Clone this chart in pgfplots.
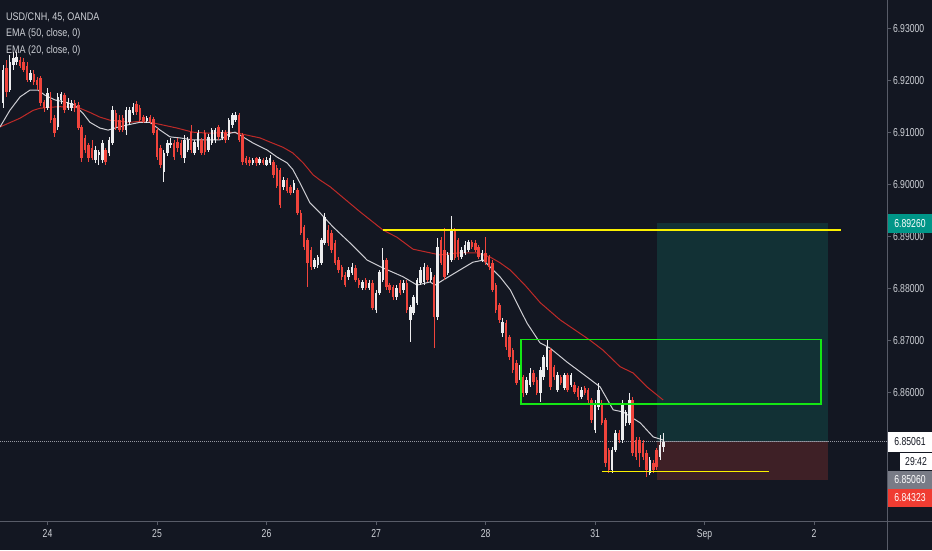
\documentclass[border=0pt]{standalone}
\usepackage{pgfplots}
\pgfplotsset{compat=1.18}
\usepackage{pgfplotstable}
\usepackage{fontspec}
\setmainfont{Liberation Sans}
\definecolor{bg}{RGB}{19,23,34}
\definecolor{sepc}{RGB}{88,92,104}
\definecolor{labc}{RGB}{205,208,214}
\definecolor{cred}{RGB}{240,68,60}
\definecolor{cwhite}{RGB}{236,236,238}
\definecolor{ema50}{RGB}{190,42,40}
\definecolor{ema20}{RGB}{205,205,210}
\definecolor{profit}{RGB}{18,49,53}
\definecolor{loss}{RGB}{62,32,38}
\definecolor{gbox}{RGB}{20,230,20}
\definecolor{ylw}{RGB}{250,240,0}
\definecolor{tealb}{RGB}{0,150,136}
\definecolor{redb}{RGB}{240,60,50}
\definecolor{greyb}{RGB}{120,123,134}
\newcommand\sq[1]{\scalebox{0.75}[1]{#1}}
\newcommand\sqq[1]{\scalebox{0.82}[1]{#1}}
\newcommand\axfont{\fontsize{11.5}{13}\selectfont}

% candle index j (45-minute bars), open, high, low, close
\pgfplotstableread{
j o h l c
0 6.9157 6.9230 6.9147 6.9221
1 6.9224 6.9240 6.9169 6.9178
2 6.9182 6.9249 6.9178 6.9236
3 6.9230 6.9255 6.9221 6.9244
4 6.9236 6.9255 6.9230 6.9246
5 6.9240 6.9246 6.9224 6.9228
6 6.9236 6.9244 6.9217 6.9221
7 6.9228 6.9236 6.9198 6.9201
8 6.9201 6.9221 6.9198 6.9215
9 6.9213 6.9221 6.9192 6.9198
10 6.9201 6.9207 6.9182 6.9192
11 6.9205 6.9209 6.9151 6.9157
12 6.9159 6.9163 6.9139 6.9147
13 6.9147 6.9186 6.9143 6.9176
14 6.9163 6.9178 6.9118 6.9124
15 6.9128 6.9134 6.9092 6.9099
16 6.9111 6.9176 6.9105 6.9169
17 6.9163 6.9178 6.9155 6.9174
18 6.9172 6.9176 6.9137 6.9143
19 6.9147 6.9167 6.9143 6.9159
20 6.9147 6.9163 6.9141 6.9157
21 6.9157 6.9163 6.9139 6.9147
22 6.9153 6.9159 6.9105 6.9109
23 6.9111 6.9114 6.9044 6.9051
24 6.9090 6.9095 6.9061 6.9067
25 6.9076 6.9080 6.9044 6.9051
26 6.9071 6.9086 6.9048 6.9051
27 6.9048 6.9074 6.9042 6.9067
28 6.9057 6.9067 6.9038 6.9063
29 6.9048 6.9086 6.9042 6.9080
30 6.9067 6.9071 6.9038 6.9044
31 6.9061 6.9092 6.9055 6.9086
32 6.9080 6.9151 6.9076 6.9143
33 6.9137 6.9143 6.9105 6.9111
34 6.9124 6.9134 6.9101 6.9105
35 6.9128 6.9134 6.9101 6.9105
36 6.9105 6.9149 6.9095 6.9143
37 6.9120 6.9149 6.9114 6.9143
38 6.9137 6.9157 6.9134 6.9149
39 6.9155 6.9161 6.9134 6.9139
40 6.9147 6.9153 6.9120 6.9124
41 6.9130 6.9134 6.9118 6.9122
42 6.9122 6.9132 6.9118 6.9128
43 6.9130 6.9134 6.9116 6.9120
44 6.9126 6.9130 6.9095 6.9099
45 6.9105 6.9109 6.9048 6.9053
46 6.9071 6.9076 6.9032 6.9038
47 6.9024 6.9067 6.9005 6.9061
48 6.9061 6.9086 6.9055 6.9080
49 6.9076 6.9090 6.9071 6.9080
50 6.9080 6.9086 6.9048 6.9053
51 6.9082 6.9090 6.9063 6.9071
52 6.9080 6.9086 6.9051 6.9057
53 6.9051 6.9095 6.9042 6.9086
54 6.9067 6.9092 6.9063 6.9086
55 6.9101 6.9114 6.9061 6.9067
56 6.9061 6.9086 6.9057 6.9082
57 6.9072 6.9105 6.9067 6.9099
58 6.9086 6.9090 6.9057 6.9061
59 6.9099 6.9105 6.9057 6.9063
60 6.9067 6.9097 6.9063 6.9092
61 6.9080 6.9109 6.9076 6.9105
62 6.9086 6.9109 6.9080 6.9105
63 6.9111 6.9114 6.9086 6.9092
64 6.9090 6.9105 6.9086 6.9101
65 6.9099 6.9105 6.9080 6.9086
66 6.9092 6.9128 6.9086 6.9124
67 6.9114 6.9137 6.9109 6.9134
68 6.9124 6.9139 6.9120 6.9135
69 6.9135 6.9137 6.9082 6.9086
70 6.9095 6.9099 6.9038 6.9044
71 6.9051 6.9055 6.9038 6.9042
72 6.9048 6.9053 6.9036 6.9042
73 6.9042 6.9051 6.9038 6.9048
74 6.9051 6.9053 6.9036 6.9042
75 6.9042 6.9053 6.9038 6.9050
76 6.9048 6.9051 6.9038 6.9042
77 6.9038 6.9053 6.9036 6.9048
78 6.9042 6.9057 6.9038 6.9051
79 6.9044 6.9048 6.9013 6.9019
80 6.9032 6.9038 6.8994 6.8998
81 6.9029 6.9032 6.8955 6.8961
82 6.8996 6.9015 6.8990 6.9009
83 6.9009 6.9013 6.8984 6.8988
84 6.8996 6.8999 6.8980 6.8984
85 6.8990 6.9009 6.8984 6.9003
86 6.8990 6.8994 6.8942 6.8946
87 6.8946 6.8951 6.8903 6.8907
88 6.8919 6.8922 6.8874 6.8880
89 6.8894 6.8898 6.8803 6.8850
90 6.8874 6.8880 6.8836 6.8842
91 6.8842 6.8859 6.8838 6.8855
92 6.8846 6.8865 6.8840 6.8861
93 6.8850 6.8898 6.8846 6.8894
94 6.8888 6.8946 6.8884 6.8938
95 6.8913 6.8922 6.8882 6.8888
96 6.8907 6.8913 6.8869 6.8874
97 6.8888 6.8894 6.8846 6.8850
98 6.8855 6.8861 6.8830 6.8836
99 6.8842 6.8846 6.8817 6.8823
100 6.8826 6.8832 6.8803 6.8807
101 6.8823 6.8842 6.8817 6.8836
102 6.8830 6.8850 6.8826 6.8842
103 6.8840 6.8846 6.8813 6.8817
104 6.8817 6.8821 6.8801 6.8807
105 6.8801 6.8817 6.8798 6.8813
106 6.8817 6.8821 6.8798 6.8801
107 6.8801 6.8817 6.8798 6.8811
108 6.8811 6.8817 6.8759 6.8763
109 6.8759 6.8798 6.8753 6.8792
110 6.8792 6.8836 6.8788 6.8832
111 6.8817 6.8878 6.8813 6.8855
112 6.8855 6.8859 6.8798 6.8803
113 6.8807 6.8811 6.8792 6.8798
114 6.8803 6.8807 6.8778 6.8784
115 6.8784 6.8807 6.8778 6.8801
116 6.8811 6.8817 6.8788 6.8792
117 6.8798 6.8817 6.8792 6.8811
118 6.8811 6.8817 6.8753 6.8759
119 6.8740 6.8769 6.8698 6.8765
120 6.8753 6.8788 6.8750 6.8784
121 6.8773 6.8821 6.8769 6.8817
122 6.8811 6.8842 6.8807 6.8836
123 6.8813 6.8850 6.8807 6.8842
124 6.8842 6.8846 6.8813 6.8817
125 6.8817 6.8840 6.8813 6.8832
126 6.8823 6.8826 6.8686 6.8746
127 6.8746 6.8898 6.8740 6.8880
128 6.8894 6.8900 6.8846 6.8850
129 6.8874 6.8917 6.8817 6.8823
130 6.8830 6.8871 6.8826 6.8865
131 6.8855 6.8940 6.8851 6.8913
132 6.8913 6.8917 6.8855 6.8859
133 6.8894 6.8898 6.8855 6.8861
134 6.8861 6.8880 6.8857 6.8874
135 6.8869 6.8892 6.8865 6.8884
136 6.8874 6.8894 6.8871 6.8890
137 6.8890 6.8894 6.8876 6.8880
138 6.8888 6.8894 6.8871 6.8874
139 6.8880 6.8884 6.8857 6.8861
140 6.8855 6.8874 6.8851 6.8869
141 6.8869 6.8900 6.8846 6.8851
142 6.8861 6.8865 6.8836 6.8842
143 6.8850 6.8855 6.8794 6.8798
144 6.8807 6.8811 6.8753 6.8759
145 6.8769 6.8773 6.8734 6.8740
146 6.8715 6.8744 6.8707 6.8736
147 6.8734 6.8740 6.8682 6.8688
148 6.8707 6.8711 6.8663 6.8669
149 6.8682 6.8686 6.8638 6.8644
150 6.8657 6.8663 6.8615 6.8619
151 6.8630 6.8653 6.8625 6.8650
152 6.8630 6.8634 6.8592 6.8600
153 6.8600 6.8630 6.8596 6.8625
154 6.8615 6.8648 6.8611 6.8638
155 6.8638 6.8644 6.8615 6.8621
156 6.8625 6.8630 6.8596 6.8600
157 6.8600 6.8650 6.8582 6.8644
158 6.8630 6.8672 6.8625 6.8669
159 6.8650 6.8701 6.8644 6.8688
160 6.8682 6.8686 6.8605 6.8611
161 6.8650 6.8653 6.8625 6.8630
162 6.8605 6.8640 6.8601 6.8634
163 6.8630 6.8634 6.8615 6.8619
164 6.8609 6.8638 6.8605 6.8634
165 6.8634 6.8638 6.8601 6.8605
166 6.8615 6.8638 6.8611 6.8634
167 6.8615 6.8621 6.8598 6.8601
168 6.8609 6.8613 6.8586 6.8592
169 6.8592 6.8611 6.8588 6.8605
170 6.8609 6.8613 6.8596 6.8600
171 6.8605 6.8609 6.8580 6.8586
172 6.8586 6.8590 6.8542 6.8548
173 6.8528 6.8586 6.8523 6.8580
174 6.8573 6.8619 6.8567 6.8605
175 6.8580 6.8586 6.8538 6.8542
176 6.8548 6.8551 6.8457 6.8465
177 6.8490 6.8494 6.8446 6.8451
178 6.8451 6.8496 6.8446 6.8490
179 6.8490 6.8528 6.8486 6.8523
180 6.8523 6.8528 6.8503 6.8509
181 6.8509 6.8586 6.8503 6.8580
182 6.8542 6.8567 6.8536 6.8563
183 6.8542 6.8600 6.8538 6.8586
184 6.8586 6.8592 6.8478 6.8484
185 6.8509 6.8515 6.8471 6.8476
186 6.8509 6.8515 6.8457 6.8484
187 6.8503 6.8509 6.8471 6.8476
188 6.8484 6.8490 6.8438 6.8451
189 6.8446 6.8476 6.8442 6.8471
190 6.8465 6.8471 6.8446 6.8451
191 6.8490 6.8494 6.8451 6.8457
192 6.8476 6.8519 6.8471 6.8499
193 6.8496 6.8523 6.8486 6.8506
}\candles

\begin{document}
\begin{tikzpicture}
\path[use as bounding box, fill=bg] (0pt,0pt) rectangle (932pt,550pt);
\begin{axis}[
  at={(0pt,29pt)}, anchor=south west,
  scale only axis, width=887pt, height=521pt,
  xmin=-0.88, xmax=258.3, ymin=6.83533, ymax=6.93552,
  axis x line*=bottom, axis y line*=right,
  axis line style={draw=sepc, line width=0.8pt},
  tick align=outside, major tick length=4pt,
  tick style={draw=sepc, line width=0.8pt},
  xtick={13,45,77,109,141,173,205,237},
  xticklabels={\sq{24},\sq{25},\sq{26},\sq{27},\sq{28},\sq{31},\sq{Sep},\sq{2}},
  ytick={6.86,6.87,6.88,6.89,6.90,6.91,6.92,6.93},
  yticklabels={\sq{6.86000},\sq{6.87000},\sq{6.88000},\sq{6.89000},\sq{6.90000},\sq{6.91000},\sq{6.92000},\sq{6.93000}},
  ticklabel style={font=\axfont, text=labc},
  xticklabel style={yshift=-1pt},
  yticklabel style={xshift=-1.5pt},
]
% long position tool
\fill[profit] (axis cs:191.1,6.8506) rectangle (axis cs:241.1,6.8926);
\fill[loss] (axis cs:191.1,6.8432) rectangle (axis cs:241.1,6.8506);
\draw[greyb, line width=0.9pt] (axis cs:191.1,6.8506) -- (axis cs:241.1,6.8506);
% last price line
\draw[color={rgb,255:red,150;green,152;blue,162}, line width=0.8pt, dash pattern=on 1pt off 1pt] (axis cs:-0.88,6.8506) -- (axis cs:258.3,6.8506);
% EMA 50
\addplot[ema50, line width=1pt, mark=none] coordinates {
(-0.88,6.9111) (5.0,6.9128) (8.8,6.9143) (10.8,6.9147) (13.7,6.9149) (16.7,6.9150) (20.5,6.9149) (22.5,6.9147) (25.4,6.9139) (28.3,6.9130) (31.3,6.9124) (37.1,6.9120) (40.0,6.9122) (43.0,6.9120) (45.9,6.9116) (50.8,6.9109) (55.5,6.9101) (60.5,6.9099) (66.3,6.9101) (68.7,6.9099) (75.1,6.9090) (78.0,6.9082) (81.8,6.9072) (84.7,6.9061) (87.7,6.9042) (90.6,6.9019) (92.6,6.9009) (95.6,6.8996) (99.4,6.8975) (104.3,6.8948) (111.0,6.8913) (115.1,6.8899) (119.8,6.8876) (124.8,6.8869) (127.7,6.8865) (133.5,6.8869) (138.5,6.8869) (142.3,6.8861) (145.2,6.8850) (148.2,6.8836) (152.5,6.8807) (157.0,6.8773) (162.8,6.8740) (171.5,6.8701) (175.3,6.8682) (180.3,6.8650) (184.1,6.8638) (188.2,6.8611) (192.9,6.8586)
};
% EMA 20
\addplot[ema20, line width=1pt, mark=none] coordinates {
(-0.88,6.9111) (2.0,6.9143) (5.0,6.9169) (7.9,6.9182) (10.2,6.9182) (12.3,6.9172) (15.2,6.9163) (18.1,6.9159) (21.0,6.9153) (23.4,6.9137) (25.4,6.9120) (28.3,6.9109) (30.7,6.9105) (32.7,6.9109) (35.7,6.9114) (40.0,6.9120) (43.0,6.9120) (45.9,6.9105) (48.8,6.9092) (51.7,6.9090) (55.5,6.9086) (60.5,6.9086) (63.4,6.9086) (66.3,6.9099) (67.8,6.9101) (70.1,6.9092) (73.1,6.9080) (77.1,6.9067) (80.1,6.9053) (83.0,6.9042) (84.7,6.9029) (86.8,6.9003) (89.7,6.8965) (92.6,6.8946) (96.4,6.8919) (101.4,6.8888) (106.4,6.8855) (111.0,6.8840) (116.9,6.8823) (121.0,6.8807) (124.8,6.8813) (126.2,6.8807) (129.7,6.8821) (133.5,6.8836) (137.3,6.8851) (140.3,6.8855) (142.3,6.8842) (145.2,6.8823) (148.2,6.8798) (153.1,6.8734) (156.9,6.8696) (159.8,6.8686) (164.8,6.8659) (170.7,6.8630) (174.5,6.8611) (178.3,6.8567) (181.2,6.8563) (186.2,6.8542) (190.0,6.8515) (192.9,6.8509)
};
% candles: bearish wicks and bodies
\addplot[draw=none, mark=none, restrict expr to domain={\thisrow{c}-\thisrow{o}}{-1:-0.00001},
  error bars/.cd, y dir=both, y explicit, error mark=none,
  error bar style={draw=cred, line width=0.9pt}]
  table[x=j, y expr={0.5*(\thisrow{h}+\thisrow{l})}, y error expr={0.5*(\thisrow{h}-\thisrow{l})}] {\candles};
\addplot[draw=none, mark=none, restrict expr to domain={\thisrow{c}-\thisrow{o}}{-1:-0.00001},
  error bars/.cd, y dir=both, y explicit, error mark=none,
  error bar style={draw=cred, line width=2.5pt}]
  table[x=j, y expr={0.5*(\thisrow{o}+\thisrow{c})}, y error expr={max(0.5*abs(\thisrow{o}-\thisrow{c}),0.00009)}] {\candles};
% bullish wicks and bodies
\addplot[draw=none, mark=none, restrict expr to domain={\thisrow{c}-\thisrow{o}}{0:1},
  error bars/.cd, y dir=both, y explicit, error mark=none,
  error bar style={draw=cwhite, line width=0.9pt}]
  table[x=j, y expr={0.5*(\thisrow{h}+\thisrow{l})}, y error expr={0.5*(\thisrow{h}-\thisrow{l})}] {\candles};
\addplot[draw=none, mark=none, restrict expr to domain={\thisrow{c}-\thisrow{o}}{0:1},
  error bars/.cd, y dir=both, y explicit, error mark=none,
  error bar style={draw=cwhite, line width=2.5pt}]
  table[x=j, y expr={0.5*(\thisrow{o}+\thisrow{c})}, y error expr={max(0.5*abs(\thisrow{o}-\thisrow{c}),0.00009)}] {\candles};
% drawings
\draw[gbox, line width=1.5pt] (axis cs:151.4,6.8578) rectangle (axis cs:239.0,6.8702);
\draw[ylw, line width=1.4pt] (axis cs:111.0,6.8913) -- (axis cs:244.9,6.8913);
\draw[ylw, line width=1.4pt] (axis cs:175.0,6.8449) -- (axis cs:223.8,6.8449);
\end{axis}
% panel separators extended
\draw[sepc, line width=0.8pt] (887pt,0pt) -- (887pt,550pt);
\draw[sepc, line width=0.8pt] (0pt,29pt) -- (932pt,29pt);
% legend
\node[anchor=west, text=labc, inner sep=0pt, font=\fontsize{11}{13}\selectfont] at (6pt,533pt) {\sqq{USD/CNH, 45, OANDA}};
\node[anchor=west, text=labc, inner sep=0pt, font=\fontsize{11}{13}\selectfont] at (6pt,516pt) {\sqq{EMA (50, close, 0)}};
\node[anchor=west, text=labc, inner sep=0pt, font=\fontsize{11}{13}\selectfont] at (6pt,499pt) {\sqq{EMA (20, close, 0)}};
% price badges
\node[fill=tealb, text=white, minimum width=44pt, minimum height=19pt, inner sep=0pt, font=\axfont] at (910pt,326.5pt) {\sq{6.89260}};
\node[fill=white, text=bg, minimum width=44pt, minimum height=20pt, inner sep=0pt, font=\axfont] at (910pt,108pt) {\sq{6.85061}};
\node[fill=white, text=bg, minimum width=32pt, minimum height=17pt, inner sep=0pt, font=\axfont] at (916pt,88.5pt) {\sq{29:42}};
\node[fill=greyb, text=white, minimum width=44pt, minimum height=18pt, inner sep=0pt, font=\axfont] at (910pt,70pt) {\sq{6.85060}};
\node[fill=redb, text=white, minimum width=44pt, minimum height=18pt, inner sep=0pt, font=\axfont] at (910pt,52pt) {\sq{6.84323}};
\end{tikzpicture}
\end{document}
